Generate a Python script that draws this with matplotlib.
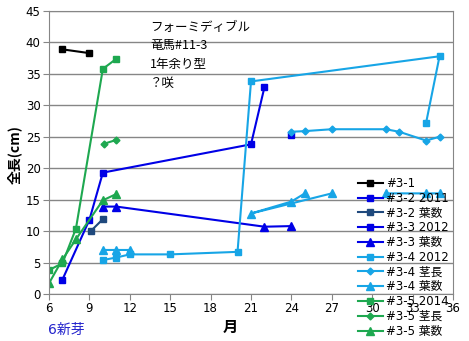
import matplotlib
matplotlib.use('Agg')
import matplotlib.pyplot as plt
import numpy as np

plt.rcParams['font.family'] = ['DejaVu Sans', 'Noto Sans CJK JP']
plt.rcParams['axes.unicode_minus'] = False

nan = np.nan

# month, length / leaf count
x31 = [7, 9]
y31 = [38.9, 38.3]
x32_2011 = [7, 9, 10, 21, 22]
y32_2011 = [2.3, 11.8, 19.3, 23.8, 32.9]
x32_leaf = [9.1, 10]
y32_leaf = [10.0, 11.9]
x33_2012 = [24]
y33_2012 = [25.3]
x33_leaf = [10, 11, 22, 24]
y33_leaf = [13.9, 13.9, 10.7, 10.8]
x34_2012 = [10, 11, 12, 15, 20, 21, 35, 34]
y34_2012 = [5.4, 5.8, 6.3, 6.3, 6.7, 33.8, 37.8, 27.2]
x34_stem = [24, 25, 27, 31, 32, 34, 35]
y34_stem = [25.8, 25.9, 26.2, 26.2, 25.8, 24.4, 25.0]
x34_leaf = [10, 11, 12, nan, 25, 24, 21, 27, nan, 31, 34, 35]
y34_leaf = [7.0, 7.0, 7.0, nan, 16.0, 14.7, 12.8, 16.0, nan, 16.0, 16.0, 16.0]
x35_2014 = [6, 7, 8, 10, 11]
y35_2014 = [3.8, 4.9, 10.4, 35.8, 37.4]
x35_stem = [10.1, 11]
y35_stem = [23.9, 24.5]
x35_leaf = [6, 7, 8, 10, 11]
y35_leaf = [1.7, 5.5, 8.7, 14.9, 15.9]

note = 'フォーミディブル\n竜馬#11-3\n1年余り型\n？咲'

black = '#000000'
blue = '#0000E6'
navy = '#1F497D'
cyan = '#17A5E6'
green = '#1EA850'

fig = plt.figure(figsize=(4.69, 3.41), dpi=100)
ax = fig.add_axes([49 / 469, 1 - 294 / 341, 404 / 469, 283 / 341])

series = [
    (x31, y31, '#3-1', black, 's', 5),
    (x32_2011, y32_2011, '#3-2 2011', blue, 's', 5),
    (x32_leaf, y32_leaf, '#3-2 葉数', navy, 's', 5),
    (x33_2012, y33_2012, '#3-3 2012', blue, 's', 5),
    (x33_leaf, y33_leaf, '#3-3 葉数', blue, '^', 5.5),
    (x34_2012, y34_2012, '#3-4 2012', cyan, 's', 5),
    (x34_stem, y34_stem, '#3-4 茎長', cyan, 'D', 3.5),
    (x34_leaf, y34_leaf, '#3-4 葉数', cyan, '^', 5.5),
    (x35_2014, y35_2014, '#3-5 2014', green, 's', 5),
    (x35_stem, y35_stem, '#3-5 茎長', green, 'D', 3.5),
    (x35_leaf, y35_leaf, '#3-5 葉数', green, '^', 5.5),
]
for xs, ys, lab, col, mk, ms in series:
    ax.plot(xs, ys, color=col, marker=mk, markersize=ms, linewidth=1.5, label=lab)

ax.set_xlim(6, 36)
ax.set_ylim(0, 45)
ax.set_xticks(range(6, 37, 3))
ax.set_yticks(range(0, 46, 5))
ax.yaxis.grid(True, color='#868686', linewidth=1)
ax.set_axisbelow(True)
for s in ax.spines.values():
    s.set_color('#868686')
ax.tick_params(axis='both', direction='out', length=4, color='#868686', labelsize=8.5, pad=2)

fig.text(15 / 469, 1 - 155 / 341, '全長(cm)', rotation=90, ha='center', va='center',
         fontsize=10, fontweight='bold', family=['Noto Sans CJK JP'])
fig.text(230 / 469, 1 - 327 / 341, '月', ha='center', va='center',
         fontsize=11, fontweight='bold', family=['Noto Sans CJK JP'])
fig.text(48 / 469, 1 - 330 / 341, '6新芽', ha='left', va='center',
         fontsize=10, color='#2222CC', family=['DejaVu Sans', 'Noto Sans CJK JP'])
fig.text(150 / 469, 1 - 21 / 341, note, ha='left', va='top', fontsize=9,
         linespacing=1.55, family=['Noto Sans CJK JP'])

fig.legend(loc='upper left', bbox_to_anchor=(358 / 469, 1 - 177 / 341), frameon=False,
           fontsize=8.5, handlelength=2.1, handletextpad=0.3, labelspacing=0.15,
           borderpad=0, borderaxespad=0)

fig.savefig('out.png', dpi=100)
